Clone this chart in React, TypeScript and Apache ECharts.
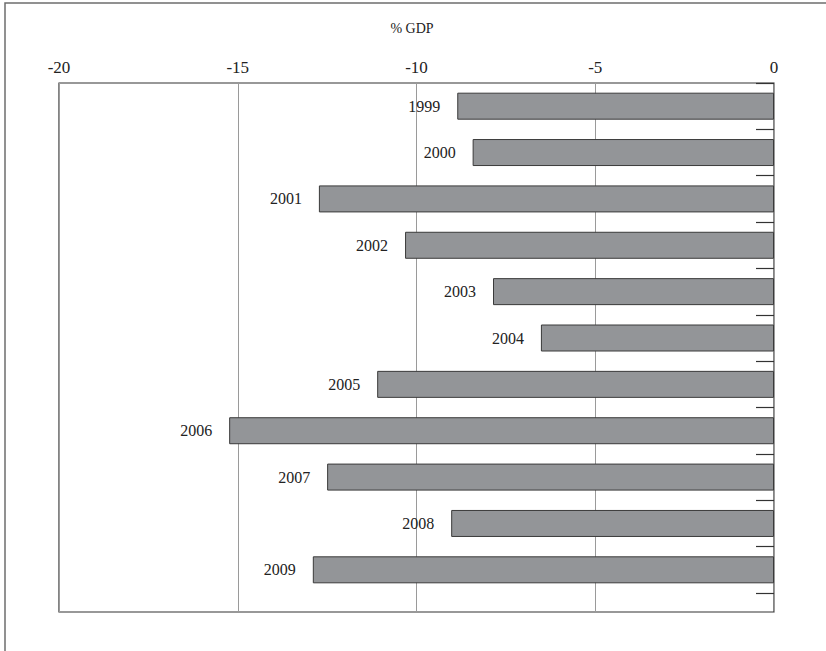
import React, { useEffect, useRef } from "react";
import * as echarts from "echarts";

const years = ["1999", "2000", "2001", "2002", "2003", "2004", "2005", "2006", "2007", "2008", "2009"];
const values = [-8.86, -8.43, -12.73, -10.32, -7.86, -6.52, -11.1, -15.24, -12.5, -9.03, -12.9];
const axisTitle = "% GDP";
const xMin = -20;
const xMax = 0;
const xInterval = 5;

const FONT = "Liberation Serif";

export default function App() {
  const ref = useRef<HTMLDivElement>(null);
  useEffect(() => {
    if (!ref.current) return;
    const chart = echarts.init(ref.current, undefined, { renderer: "svg" });
    chart.setOption({
      animation: false,
      backgroundColor: "#ffffff",
      textStyle: { fontFamily: FONT },
      graphic: [
        {
          type: "rect",
          shape: { x: 5, y: 3, width: 900, height: 800 },
          style: { fill: "none", stroke: "#6d6d6d", lineWidth: 1.5 },
          silent: true,
          z: 0,
        },
        {
          type: "text",
          x: 412,
          y: 28,
          style: {
            text: axisTitle,
            font: `14px "${FONT}"`,
            fill: "#222",
            textAlign: "center",
            textVerticalAlign: "middle",
          },
        },
      ],
      grid: [
        { left: 59, top: 83, width: 715, height: 529, show: true, borderColor: "#333", borderWidth: 1.2, backgroundColor: "transparent", containLabel: false },
        { left: 59, top: 83, width: 715, height: 510, containLabel: false },
      ],
      xAxis: [
        {
          gridIndex: 0,
          type: "value",
          position: "top",
          min: xMin,
          max: xMax,
          interval: xInterval,
          axisLine: { show: false },
          axisTick: { show: false },
          axisLabel: { color: "#222", fontSize: 17, fontFamily: FONT, margin: 7 },
          splitLine: { show: true, lineStyle: { color: "#9a9a9a", width: 1 } },
        },
        {
          gridIndex: 1,
          type: "value",
          min: xMin,
          max: xMax,
          show: false,
          splitLine: { show: false },
        },
      ],
      yAxis: [
        { gridIndex: 0, type: "value", show: false, splitLine: { show: false } },
        {
          gridIndex: 1,
          type: "category",
          data: years,
          inverse: true,
          position: "right",
          axisLine: { show: false },
          axisTick: { show: true, inside: true, length: 18, alignWithLabel: false, lineStyle: { color: "#333", width: 1.2 } },
          axisLabel: { show: false },
          splitLine: { show: false },
        },
      ],
      series: [
        {
          type: "bar",
          xAxisIndex: 1,
          yAxisIndex: 1,
          data: values,
          barWidth: 27,
          itemStyle: { color: "#939598", borderColor: "#3a3a3a", borderWidth: 1 },
          label: {
            show: true,
            position: "left",
            distance: 17,
            formatter: (p: any) => years[p.dataIndex],
            color: "#222",
            fontSize: 16,
            fontFamily: FONT,
          },
        },
      ],
    });
    return () => chart.dispose();
  }, []);
  return <div ref={ref} style={{ position: "absolute", left: 0, top: 0, width: 826, height: 651 }} />;
}
